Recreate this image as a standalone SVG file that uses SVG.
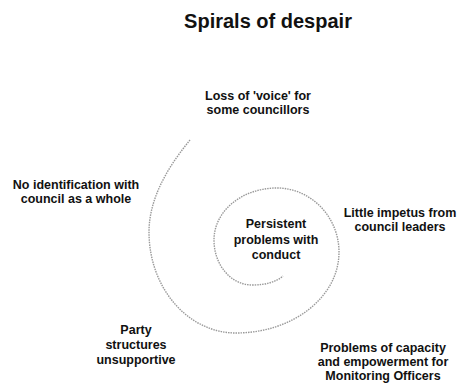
<svg xmlns="http://www.w3.org/2000/svg" width="457" height="385" viewBox="0 0 457 385">
<style>
  text { font-family: "Liberation Sans", Arial, sans-serif; font-weight: bold; fill: #111; text-anchor: middle; }
  .t { font-size: 20px; }
  .l { font-size: 12.5px; }
  .spiral { fill: none; stroke: #999999; stroke-width: 1.4; stroke-dasharray: 1.5 1; }
</style>
<rect width="457" height="385" fill="#ffffff"/>
<g id="title"><text class="t" x="268" y="28">Spirals of despair</text></g>
<g id="connectors">
  <path class="spiral" d="M190,140 C172,162 149,195 149,232 C149,288 188,333 236,333 C293,333 339,297 339,252 C339,217 311,188 277,188 C242,188 214,211 214,240 C214,265 231,285 252,285 C266,285 276,282 283,276"/>
</g>
<g id="node-loss"><text class="l" x="258" y="100">Loss of 'voice' for</text><text class="l" x="258" y="114">some councillors</text></g>
<g id="node-identification"><text class="l" x="76" y="189">No identification with</text><text class="l" x="76" y="203">council as a whole</text></g>
<g id="node-impetus"><text class="l" x="400" y="217">Little impetus from</text><text class="l" x="400" y="231">council leaders</text></g>
<g id="node-persistent"><text class="l" x="276" y="228">Persistent</text><text class="l" x="276" y="243.5">problems with</text><text class="l" x="276" y="259">conduct</text></g>
<g id="node-party"><text class="l" x="136" y="334">Party</text><text class="l" x="136" y="349">structures</text><text class="l" x="136" y="364">unsupportive</text></g>
<g id="node-capacity"><text class="l" x="383" y="352">Problems of capacity</text><text class="l" x="383" y="366">and empowerment for</text><text class="l" x="383" y="380">Monitoring Officers</text></g>
</svg>
